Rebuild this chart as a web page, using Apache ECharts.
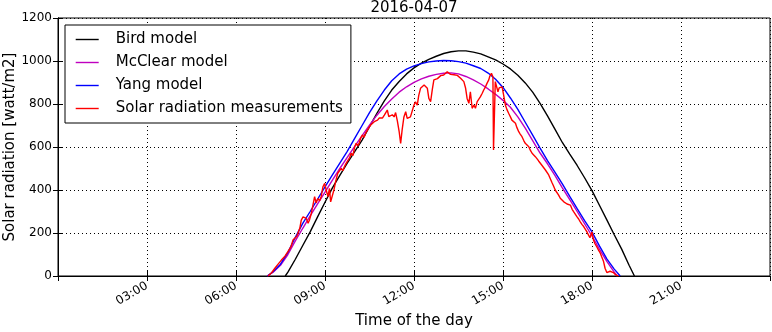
<!DOCTYPE html>
<html>
<head>
<meta charset="utf-8">
<script src="https://cdn.jsdelivr.net/npm/echarts/dist/echarts.min.js"></script>
<style>
  html, body { margin: 0; padding: 0; background: #fff; }
  #chart { width: 772px; height: 332px; }
</style>
</head>
<body>
<div id="chart"></div>
<script>
// hours of the day (decimal) and values in watt/m2
var birdHours = [7.66, 7.75, 8, 8.25, 8.5, 8.75, 9, 9.25, 9.5, 9.75, 10, 10.25, 10.5, 10.75, 11, 11.25, 11.5, 11.75, 12, 12.25, 12.5, 12.75, 13, 13.25, 13.5, 13.75, 14, 14.25, 14.5, 14.75, 15, 15.25, 15.5, 15.75, 16, 16.25, 16.5, 16.75, 17, 17.25, 17.5, 17.75, 18, 18.25, 18.5, 18.75, 19, 19.25, 19.43];
var birdModel = [0, 18, 78, 142, 205, 275, 343, 410, 468, 525, 578, 632, 695, 757, 815, 865, 905, 940, 968, 990, 1008, 1022, 1035, 1043, 1047, 1047, 1041, 1033, 1019, 1005, 986, 963, 934, 898, 855, 803, 745, 683, 621, 567, 514, 457, 397, 329, 261, 192, 125, 50, 0];

var mcclearHours = [7.05, 7.25, 7.5, 7.75, 8, 8.25, 8.5, 8.75, 9, 9.25, 9.5, 9.75, 10, 10.25, 10.5, 10.75, 11, 11.25, 11.5, 11.75, 12, 12.25, 12.5, 12.75, 13, 13.25, 13.5, 13.75, 14, 14.25, 14.5, 14.75, 15, 15.25, 15.5, 15.75, 16, 16.25, 16.5, 16.75, 17, 17.25, 17.5, 17.75, 18, 18.25, 18.5, 18.75, 18.85];
var mcclearModel = [0, 18, 50, 100, 163, 222, 280, 335, 390, 446, 500, 552, 603, 653, 702, 748, 788, 823, 855, 880, 901, 917, 929, 938, 943, 945, 940, 928, 912, 893, 870, 845, 817, 785, 740, 688, 630, 572, 522, 468, 410, 355, 300, 243, 186, 125, 68, 18, 0];

var yangHours = [7.06, 7.25, 7.5, 7.75, 8, 8.25, 8.5, 8.75, 9, 9.25, 9.5, 9.75, 10, 10.25, 10.5, 10.75, 11, 11.25, 11.5, 11.75, 12, 12.25, 12.5, 12.75, 13, 13.25, 13.5, 13.75, 14, 14.25, 14.5, 14.75, 15, 15.25, 15.5, 15.75, 16, 16.25, 16.5, 16.75, 17, 17.25, 17.5, 17.75, 18, 18.25, 18.5, 18.75, 18.95];
var yangModel = [0, 20, 55, 110, 180, 245, 300, 357, 415, 470, 525, 580, 640, 700, 760, 815, 865, 908, 940, 962, 977, 988, 996, 1000, 1002, 1001, 997, 990, 978, 965, 944, 915, 877, 828, 775, 715, 655, 595, 537, 483, 428, 370, 313, 258, 205, 140, 80, 32, 0];

var measHours = [7.08, 7.2, 7.31, 7.42, 7.53, 7.65, 7.75, 7.85, 7.92, 7.97, 8.05, 8.15, 8.2, 8.26, 8.31, 8.37, 8.43, 8.48, 8.54, 8.6, 8.65, 8.7, 8.76, 8.82, 8.87, 8.93, 8.99, 9.04, 9.1, 9.15, 9.19, 9.23, 9.3, 9.36, 9.43, 9.49, 9.55, 9.6, 9.66, 9.71, 9.77, 9.83, 9.88, 9.94, 10, 10.05, 10.1, 10.15, 10.2, 10.26, 10.32, 10.37, 10.43, 10.48, 10.54, 10.6, 10.66, 10.72, 10.77, 10.83, 10.88, 10.94, 11, 11.05, 11.1, 11.15, 11.2, 11.27, 11.33, 11.38, 11.44, 11.5, 11.55, 11.6, 11.66, 11.72, 11.77, 11.83, 11.88, 11.94, 12, 12.05, 12.11, 12.16, 12.22, 12.28, 12.34, 12.4, 12.45, 12.5, 12.56, 12.62, 12.67, 12.73, 12.79, 12.84, 12.9, 12.95, 13, 13.06, 13.12, 13.18, 13.23, 13.29, 13.35, 13.4, 13.46, 13.51, 13.57, 13.62, 13.68, 13.74, 13.79, 13.85, 13.9, 13.96, 14.02, 14.07, 14.13, 14.18, 14.24, 14.3, 14.35, 14.41, 14.46, 14.52, 14.55, 14.61, 14.66, 14.68, 14.72, 14.74, 14.77, 14.83, 14.87, 14.91, 14.97, 15.02, 15.08, 15.13, 15.19, 15.25, 15.3, 15.36, 15.42, 15.47, 15.53, 15.58, 15.64, 15.7, 15.75, 15.81, 15.87, 15.92, 15.98, 16.04, 16.09, 16.15, 16.2, 16.26, 16.31, 16.37, 16.43, 16.48, 16.54, 16.59, 16.65, 16.7, 16.76, 16.82, 16.87, 16.93, 16.99, 17.05, 17.1, 17.16, 17.22, 17.27, 17.33, 17.38, 17.44, 17.49, 17.55, 17.6, 17.66, 17.72, 17.77, 17.83, 17.88, 17.93, 17.97, 18, 18.02, 18.05, 18.1, 18.16, 18.22, 18.28, 18.33, 18.39, 18.44, 18.5, 18.55, 18.61, 18.67, 18.72, 18.8, 18.89];
var measValues = [0, 15, 36, 55, 74, 92, 113, 135, 167, 160, 185, 222, 260, 275, 280, 268, 245, 262, 292, 300, 369, 340, 360, 350, 369, 415, 431, 400, 369, 408, 345, 353, 400, 440, 478, 470, 501, 490, 510, 524, 515, 550, 571, 560, 600, 617, 605, 617, 640, 656, 645, 665, 671, 690, 702, 695, 718, 710, 725, 735, 741, 735, 748, 760, 772, 741, 745, 750, 740, 760, 720, 671, 617, 680, 740, 764, 733, 725, 740, 733, 795, 810, 795, 840, 873, 880, 888, 880, 873, 826, 811, 870, 912, 920, 918, 927, 932, 930, 935, 940, 950, 945, 938, 942, 936, 935, 933, 927, 920, 912, 904, 873, 826, 803, 857, 780, 795, 780, 811, 820, 834, 850, 865, 880, 896, 912, 927, 943, 927, 586, 586, 904, 904, 857, 875, 873, 880, 842, 795, 775, 757, 740, 725, 718, 710, 690, 671, 660, 648, 630, 617, 610, 601, 585, 571, 562, 555, 545, 535, 528, 515, 515, 493, 500, 470, 462, 435, 420, 400, 395, 377, 362, 353, 345, 338, 335, 330, 330, 310, 299, 290, 276, 265, 253, 240, 230, 222, 205, 191, 178, 183, 205, 201, 167, 150, 136, 120, 106, 88, 67, 36, 16, 18, 22, 18, 16, 5, 0];

var seriesNames = ['Bird model', 'McClear model', 'Yang model', 'Solar radiation measurements'];
var seriesColors = ['#000000', '#bf00bf', '#0000ff', '#ff0000'];

function pairs(xs, ys) {
  return xs.map(function (x, i) { return [x, ys[i]]; });
}

var font = 'DejaVu Sans';
var chart = echarts.init(document.getElementById('chart'));

var dotted = { color: '#000', width: 1, type: [1, 3] };

var lines = [
  pairs(birdHours, birdModel),
  pairs(mcclearHours, mcclearModel),
  pairs(yangHours, yangModel),
  pairs(measHours, measValues)
].map(function (d, i) {
  return {
    name: seriesNames[i],
    type: 'line',
    data: d,
    symbol: 'none',
    showSymbol: false,
    lineStyle: { color: seriesColors[i], width: 1.4 },
    itemStyle: { color: seriesColors[i] },
    z: 3 + i
  };
});

chart.setOption({
  animation: false,
  textStyle: { fontFamily: font },
  title: {
    text: '2016-04-07',
    left: 414,
    textAlign: 'center',
    top: 1,
    padding: 0,
    textStyle: { fontFamily: font, fontSize: 15, fontWeight: 'normal', color: '#000' }
  },
  legend: {
    data: seriesNames,
    orient: 'vertical',
    left: 65,
    top: 25,
    backgroundColor: '#fff',
    borderColor: '#000',
    borderWidth: 1,
    borderRadius: 0,
    padding: [7, 8, 7, 10],
    itemWidth: 23,
    itemHeight: 14,
    itemGap: 8,
    itemStyle: { opacity: 0 },
    lineStyle: { width: 1.4 },
    textStyle: { fontFamily: font, fontSize: 15, color: '#000', padding: [0, 0, 0, 12] }
  },
  grid: {
    left: 58, top: 18, width: 712, height: 258,
    outerBoundsMode: 'none', containLabel: false,
    show: true, borderColor: '#000', borderWidth: 1, backgroundColor: 'transparent'
  },
  xAxis: [{
    type: 'value', min: 0, max: 24, interval: 3,
    name: 'Time of the day', nameLocation: 'middle', nameGap: 38, nameMoveOverlap: false,
    nameTextStyle: { fontFamily: font, fontSize: 15, color: '#000' },
    axisLine: { lineStyle: { color: '#000', width: 1 } },
    axisTick: { inside: true, length: 5, lineStyle: { color: '#000' } },
    axisLabel: {
      rotate: 30, margin: 9, fontSize: 12, color: '#000', fontFamily: font,
      showMinLabel: false, showMaxLabel: false,
      formatter: function (v) {
        if (v === 0 || v === 24) return '';
        return (v < 10 ? '0' : '') + v + ':00';
      }
    },
    splitLine: { show: true, lineStyle: dotted }
  }, {
    type: 'value', min: 0, max: 24, interval: 3, position: 'top',
    axisLine: { lineStyle: { color: '#000', width: 1 } },
    axisTick: { inside: true, length: 5, lineStyle: { color: '#000' } },
    axisLabel: { show: false },
    splitLine: { show: false }
  }],
  yAxis: [{
    type: 'value', min: 0, max: 1200, interval: 200,
    name: 'Solar radiation [watt/m2]', nameLocation: 'middle', nameGap: 40, nameMoveOverlap: false,
    nameTextStyle: { fontFamily: font, fontSize: 15, color: '#000' },
    axisLine: { show: true, lineStyle: { color: '#000', width: 1 } },
    axisTick: { show: true, inside: true, length: 5, lineStyle: { color: '#000' } },
    axisLabel: { margin: 6, fontSize: 12, color: '#000', fontFamily: font, formatter: function (v) { return String(v); } },
    splitLine: { show: true, lineStyle: dotted }
  }, {
    type: 'value', min: 0, max: 1200, interval: 200, position: 'right',
    axisLine: { show: true, lineStyle: { color: '#000', width: 1 } },
    axisTick: { show: true, inside: true, length: 5, lineStyle: { color: '#000' } },
    axisLabel: { show: false },
    splitLine: { show: false }
  }],
  series: lines
});
</script>
</body>
</html>
